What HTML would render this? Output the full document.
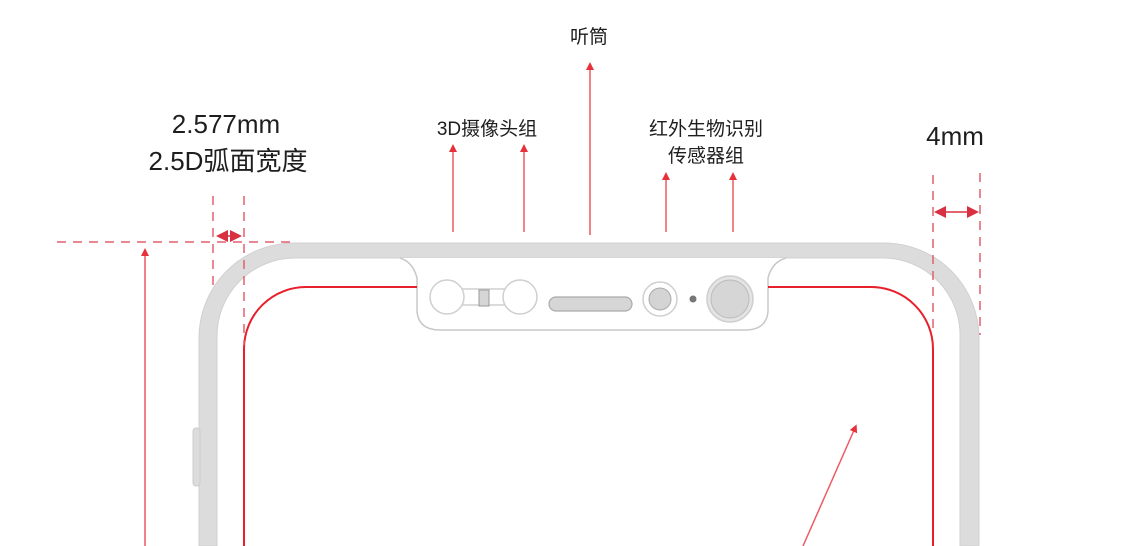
<!DOCTYPE html>
<html><head><meta charset="utf-8"><style>
html,body{margin:0;padding:0;background:#fff;width:1129px;height:546px;overflow:hidden}
svg{display:block}
text{font-family:"Liberation Sans","Noto Sans CJK SC",sans-serif;fill:#1e1e1e}
</style></head><body>
<svg width="1129" height="546" viewBox="0 0 1129 546" xmlns="http://www.w3.org/2000/svg">
<defs>
<marker id="ah" markerWidth="8" markerHeight="8" refX="4" refY="4" orient="auto" markerUnits="userSpaceOnUse"><path d="M0,0 L8,4 L0,8 Z" fill="#e8303a"/></marker>
<marker id="ah2" markerWidth="12" markerHeight="12" refX="10" refY="6" orient="auto-start-reverse" markerUnits="userSpaceOnUse"><path d="M0,0 L12,6 L0,12 Z" fill="#d83040"/></marker>
</defs>
<path d="M199,546 L199,338 A95,95 0 0 1 294,243 L884,243 A95,95 0 0 1 979,338 L979,546 L960,546 L960,338 A77,77 0 0 0 883,258 L295,258 A78,78 0 0 0 217,336 L217,546 Z" fill="#dcdcdc" stroke="#d0d0d0" stroke-width="1"/>
<rect x="193" y="428" width="7" height="58" rx="3" fill="#dcdcdc" stroke="#ccc"/>
<path d="M400,258 Q413,262 417,278 L417,312 Q419,330 440,330 L745,330 Q766,330 768,312 L768,278 Q772,262 786,258" fill="#fff" stroke="#c8c8c8" stroke-width="1.5"/>
<path d="M244,546 L244,348 A62,62 0 0 1 306,287 L417,287 M768,287 L871,287 A62,62 0 0 1 933,349 L933,546" fill="none" stroke="#e8202c" stroke-width="2"/>
<path d="M455,289 L512,289 L512,305 L455,305 Z" fill="#fff" stroke="#cfcfcf" stroke-width="1.5"/>
<circle cx="447" cy="297" r="17" fill="#fff" stroke="#cfcfcf" stroke-width="1.5"/>
<circle cx="520" cy="297" r="17" fill="#fff" stroke="#cfcfcf" stroke-width="1.5"/>
<rect x="479" y="290" width="10" height="16" fill="#d6d6d6" stroke="#999" stroke-width="1"/>
<rect x="549" y="297" width="83" height="14" rx="7" fill="#d6d6d6" stroke="#aaa" stroke-width="1.2"/>
<circle cx="660" cy="299" r="17" fill="#fff" stroke="#cfcfcf" stroke-width="1.5"/>
<circle cx="660" cy="299" r="11" fill="#d4d4d4" stroke="#aaa"/>
<circle cx="693" cy="299" r="3.5" fill="#777"/>
<circle cx="730" cy="299" r="23" fill="#e4e4e4" stroke="#cfcfcf" stroke-width="1.5"/>
<circle cx="730" cy="299" r="19" fill="#d6d6d6" stroke="#bbb"/>
<g stroke="#e06070" stroke-width="1.5" stroke-dasharray="9,7" fill="none">
<line x1="57" y1="242" x2="290" y2="242"/>
<line x1="213" y1="196" x2="213" y2="292"/>
<line x1="244" y1="196" x2="244" y2="345"/>
<line x1="933" y1="175" x2="933" y2="335"/>
<line x1="980" y1="173" x2="980" y2="335"/>
</g>
<g stroke="#d83040" stroke-width="1.5">
<line x1="218" y1="236" x2="240" y2="236" marker-start="url(#ah2)" marker-end="url(#ah2)"/>
<line x1="936" y1="212" x2="977" y2="212" marker-start="url(#ah2)" marker-end="url(#ah2)"/>
</g>
<g stroke="#ee5a64" stroke-width="1.5">
<line x1="145" y1="546" x2="145" y2="252" marker-end="url(#ah)"/>
<line x1="453" y1="232" x2="453" y2="148" marker-end="url(#ah)"/>
<line x1="524" y1="232" x2="524" y2="148" marker-end="url(#ah)"/>
<line x1="590" y1="235" x2="590" y2="66" marker-end="url(#ah)"/>
<line x1="666" y1="232" x2="666" y2="176" marker-end="url(#ah)"/>
<line x1="733" y1="232" x2="733" y2="176" marker-end="url(#ah)"/>
<line x1="803" y1="546" x2="855" y2="428" marker-end="url(#ah)"/>
</g>
<text x="589" y="43" font-size="19" text-anchor="middle">听筒</text>
<text x="487" y="135" font-size="19" text-anchor="middle">3D摄像头组</text>
<text x="706" y="135" font-size="19" text-anchor="middle">红外生物识别</text>
<text x="706" y="162" font-size="19" text-anchor="middle">传感器组</text>
<text x="226" y="133" font-size="26" text-anchor="middle">2.577mm</text>
<text x="228" y="170" font-size="26" text-anchor="middle">2.5D弧面宽度</text>
<text x="955" y="145" font-size="26" text-anchor="middle">4mm</text>
</svg>
</body></html>
